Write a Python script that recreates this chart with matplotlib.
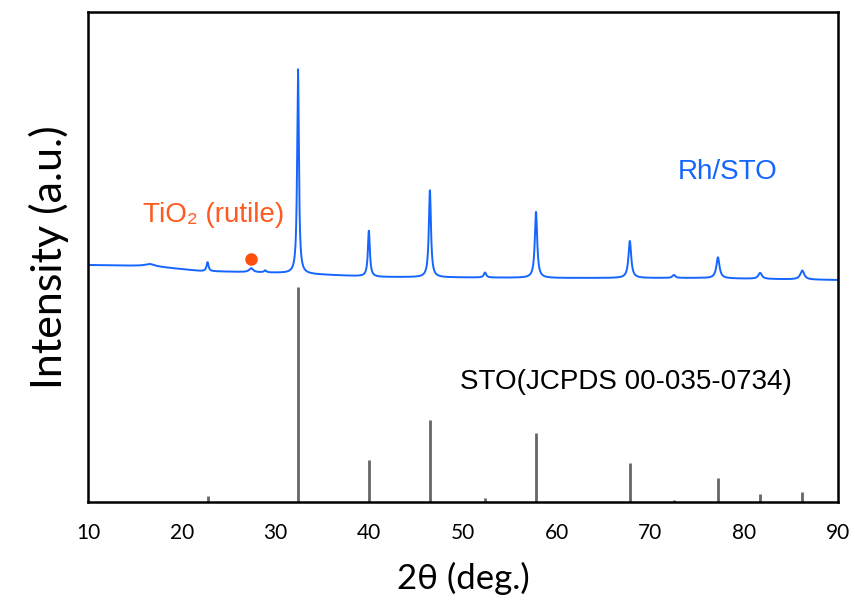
import numpy as np
import matplotlib
matplotlib.use("Agg")
import matplotlib.pyplot as plt

plt.rcParams['font.family'] = ['Liberation Sans', 'DejaVu Sans']
axis_font = ['Lato', 'DejaVu Sans']

# Measured pattern (Rh/STO), described by read-off peaks on a sloping background
bg_x = [10, 16.6, 22, 30.5, 41, 60, 75, 90]
bg_y = [237, 236, 231, 229, 225, 224, 224, 222]
peak_pos = [16.6, 22.75, 27.4, 28.9, 32.4, 39.96, 46.47, 52.35, 57.79, 67.8, 72.5, 77.2, 81.7, 86.2]
peak_height = [2, 9, 4, 2, 205, 46, 87, 5, 66, 37, 3, 21, 6, 9]
peak_fwhm = [1.2, 0.25, 0.5, 0.3, 0.22, 0.25, 0.27, 0.3, 0.3, 0.35, 0.35, 0.4, 0.45, 0.5]

# Reference pattern STO (JCPDS 00-035-0734)
ref_pos = [22.75, 32.4, 39.96, 46.47, 52.35, 57.79, 67.8, 72.5, 77.2, 81.7, 86.2]
ref_int = [6, 215, 42, 82, 4, 69, 39, 2, 24, 8, 10]

rutile_pos = 27.4
rutile_mark = 243

two_theta = np.linspace(10, 90, 4000)
intensity = np.interp(two_theta, bg_x, bg_y)
for p, h, w in zip(peak_pos, peak_height, peak_fwhm):
    g = (w / 2) ** 2
    intensity = intensity + h * g / ((two_theta - p) ** 2 + g)

fig = plt.figure(figsize=(8.55, 6.04), dpi=100)
ax = fig.add_axes([0.103, 0.169, 0.877, 0.811])

ax.plot(two_theta, intensity, color='#1565FF', lw=1.4)
ax.vlines(ref_pos, 0, ref_int, color='#666666', lw=2)
ax.plot([rutile_pos], [rutile_mark], 'o', color='#FF4F0F', ms=8)

ax.text(23.44, 287, 'TiO₂ (rutile)', color='#FF5A1F', fontsize=20,
        ha='center', va='center')
ax.text(78.27, 330, 'Rh/STO', color='#1565FF', fontsize=20,
        ha='center', va='center')
ax.text(67.39, 120, 'STO(JCPDS 00-035-0734)', color='black', fontsize=20,
        ha='center', va='center')

ax.set_xlim(10, 90)
ax.set_ylim(0, 490)
ax.set_xticks(range(10, 91, 10))
ax.set_yticks([])
ax.tick_params(axis='x', length=0, pad=15)
for lab in ax.get_xticklabels():
    lab.set_fontfamily(axis_font)
    lab.set_fontsize(15)
for s in ax.spines.values():
    s.set_linewidth(1.8)

ax.set_xlabel('2θ (deg.)', fontsize=25, labelpad=14, family=axis_font)
ax.set_ylabel('Intensity (a.u.)', fontsize=31, labelpad=14, family=axis_font)

fig.savefig('out.png', dpi=100)
